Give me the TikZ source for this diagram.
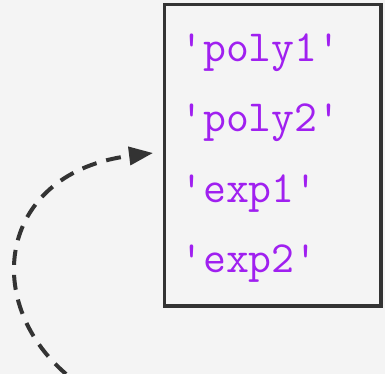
\documentclass[tikz,border=0pt]{standalone}
\usepackage{fontspec}
\usetikzlibrary{arrows.meta}
\definecolor{paper}{RGB}{244,244,244}
\definecolor{ink}{RGB}{51,51,51}
\definecolor{strpurple}{RGB}{160,32,240}
\tikzset{
  listbox/.style={draw=ink, line width=3.5pt, minimum width=216.5pt, minimum height=301.5pt, inner sep=0pt},
  entry/.style={anchor=base west, inner sep=0pt, text=strpurple, font=\ttfamily\fontsize{44.5}{44.5}\selectfont},
  link/.style={draw=ink, line width=4pt, dash pattern=on 15pt off 10pt, -{Triangle[length=24pt,width=18pt]}}
}
\begin{document}
\begin{tikzpicture}[x=1pt,y=-1pt]
  % canvas
  \fill[paper] (0,0) rectangle (385,374);
  \useasboundingbox (0,0) rectangle (385,374);
  % list of names
  \node[listbox] (list) at (272.75,155.25) {};
  \node[entry] (e1) at (180,62) {'poly1'};
  \node[entry] (e2) at (180,132) {'poly2'};
  \node[entry] (e3) at (180,202) {'exp1'};
  \node[entry] (e4) at (180,272) {'exp2'};
  % incoming reference
  \coordinate (src) at (66,374);
  \coordinate (tip) at (153,153);
  \draw[link] (src) .. controls (-20,300) and (0,172) .. (tip);
\end{tikzpicture}
\end{document}
